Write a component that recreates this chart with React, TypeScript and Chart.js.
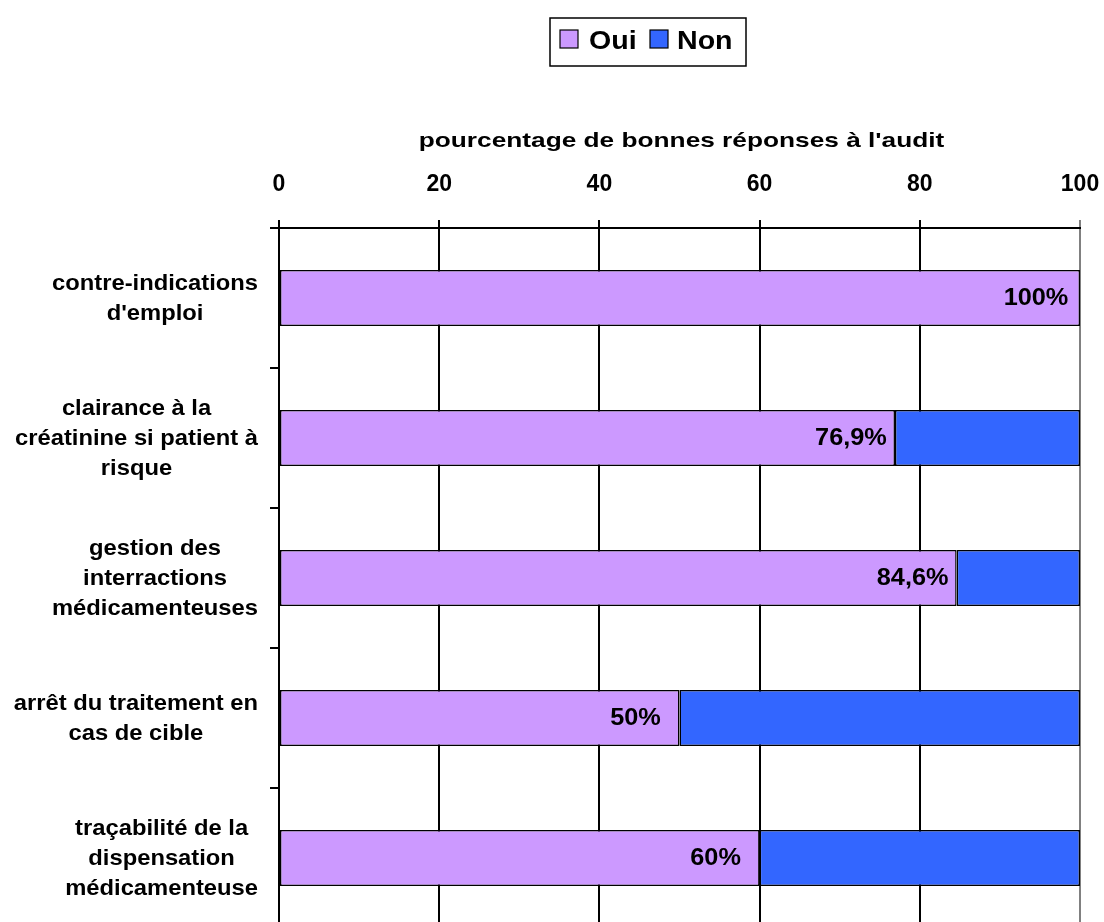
import React, { useEffect, useRef } from "react";
import { Chart, registerables } from "chart.js";

Chart.register(...registerables);

const categories: string[][] = [
  ["contre-indications", "d'emploi"],
  ["clairance à la", "créatinine si patient à", "risque"],
  ["gestion des", "interractions", "médicamenteuses"],
  ["arrêt du traitement en", "cas de cible"],
  ["traçabilité de la", "dispensation", "médicamenteuse"],
];
const ouiValues = [100, 76.9, 84.6, 50, 60];
const nonValues = [0, 23.1, 15.4, 50, 40];
const seriesNames = ["Oui", "Non"];
const xTicks = [0, 20, 40, 60, 80, 100];
const axisTitle = "pourcentage de bonnes réponses à l'audit";

const OUI_COLOR = "#CC99FF";
const NON_COLOR = "#3366FF";
const FONT = "'Liberation Sans', Arial, Helvetica, sans-serif";

function drawText(
  ctx: CanvasRenderingContext2D,
  text: string,
  x: number,
  y: number,
  align: CanvasTextAlign,
  sx: number
) {
  ctx.save();
  ctx.translate(x, y);
  ctx.scale(sx, 1);
  ctx.textAlign = align;
  ctx.fillText(text, 0, 0);
  ctx.restore();
}

const decorPlugin = {
  id: "decor",
  afterDraw(chart: any) {
    const ctx = chart.ctx as CanvasRenderingContext2D;
    const area = chart.chartArea;
    const yScale = chart.scales.y;
    const xScale = chart.scales.x;
    ctx.save();

    // axis title
    ctx.fillStyle = "#000";
    ctx.font = `bold 21px ${FONT}`;
    ctx.textBaseline = "alphabetic";
    drawText(ctx, axisTitle, (area.left + area.right) / 2 + 2, 147, "center", 1.25);

    // y category labels (block right-aligned, lines centered)
    const ySx = 1.08;
    ctx.font = `bold 22px ${FONT}`;
    ctx.textBaseline = "middle";
    const lh = 30;
    categories.forEach((lines, i) => {
      const cy = yScale.getPixelForValue(i);
      const maxW = Math.max(...lines.map((l) => ctx.measureText(l).width)) * ySx;
      const cx = area.left - 21 - maxW / 2;
      const startY = cy - ((lines.length - 1) * lh) / 2;
      lines.forEach((l, j) => drawText(ctx, l, cx, startY + j * lh + 1, "center", ySx));
    });

    // value labels
    ctx.font = `bold 23px ${FONT}`;
    ctx.textBaseline = "middle";
    ouiValues.forEach((v, i) => {
      const x = xScale.getPixelForValue(v);
      const y = yScale.getPixelForValue(i);
      const txt = String(v).replace(".", ",") + "%";
      drawText(ctx, txt, x - 44, y + 1, "center", 1.1);
    });

    // legend
    const bx = 550, by = 18, bw = 196, bh = 48;
    ctx.fillStyle = "#fff";
    ctx.fillRect(bx, by, bw, bh);
    ctx.strokeStyle = "#000";
    ctx.lineWidth = 1.5;
    ctx.strokeRect(bx, by, bw, bh);
    const items = [
      { name: seriesNames[0], color: OUI_COLOR, sx: 560, tx: 589 },
      { name: seriesNames[1], color: NON_COLOR, sx: 650, tx: 677 },
    ];
    ctx.font = `bold 26px ${FONT}`;
    ctx.textBaseline = "middle";
    items.forEach((it) => {
      ctx.fillStyle = it.color;
      ctx.fillRect(it.sx, 30, 18, 18);
      ctx.lineWidth = 1.2;
      ctx.strokeRect(it.sx, 30, 18, 18);
      ctx.fillStyle = "#000";
      drawText(ctx, it.name, it.tx, 42, "left", 1.1);
    });
    ctx.restore();
  },
};

export default function App() {
  const ref = useRef<HTMLCanvasElement | null>(null);
  useEffect(() => {
    if (!ref.current) return;
    const chart = new Chart(ref.current, {
      type: "bar",
      data: {
        labels: categories.map((c) => c.join(" ")),
        datasets: [
          {
            label: seriesNames[0],
            data: ouiValues,
            backgroundColor: OUI_COLOR,
            borderColor: "#000",
            borderWidth: 1.5,
            borderSkipped: false,
            barPercentage: 0.4,
            categoryPercentage: 1,
          },
          {
            label: seriesNames[1],
            data: nonValues,
            backgroundColor: NON_COLOR,
            borderColor: "#000",
            borderWidth: 1.5,
            borderSkipped: false,
            barPercentage: 0.4,
            categoryPercentage: 1,
          },
        ],
      },
      options: {
        indexAxis: "y",
        responsive: false,
        animation: false,
        layout: { padding: { top: 0, left: 0, right: 24, bottom: 12 } },
        plugins: {
          legend: { display: false },
          tooltip: { enabled: false },
          title: { display: false },
        },
        scales: {
          x: {
            type: "linear",
            position: "top",
            stacked: true,
            min: 0,
            max: 100,
            afterBuildTicks: (axis: any) => {
              axis.ticks = xTicks.map((v) => ({ value: v }));
            },
            afterFit: (axis: any) => {
              axis.height = 228;
              axis.paddingLeft = 0;
              axis.paddingRight = 0;
            },
            ticks: {
              color: "#000",
              font: { family: FONT, size: 23, weight: "bold" },
              padding: 22,
              maxRotation: 0,
            },
            grid: {
              color: (c: any) => (c.tick && c.tick.value === 100 ? "#808080" : "#000"),
              lineWidth: 2,
              drawOnChartArea: true,
              drawTicks: true,
              tickLength: 8,
            },
            border: { display: true, color: "#000", width: 2 },
          },
          y: {
            type: "category",
            stacked: true,
            afterFit: (axis: any) => {
              axis.width = 279;
            },
            ticks: { display: false },
            grid: {
              offset: true,
              color: "#000",
              lineWidth: 2,
              drawOnChartArea: false,
              drawTicks: true,
              tickLength: 9,
            },
            border: { display: true, color: "#000", width: 2 },
          },
        },
      },
      plugins: [decorPlugin],
    } as any);
    return () => chart.destroy();
  }, []);

  return (
    <div
      style={{
        position: "fixed",
        top: 0,
        left: 0,
        width: 1104,
        height: 922,
        overflow: "hidden",
        background: "#fff",
      }}
    >
      <canvas ref={ref} width={1104} height={940} style={{ display: "block" }} />
    </div>
  );
}
